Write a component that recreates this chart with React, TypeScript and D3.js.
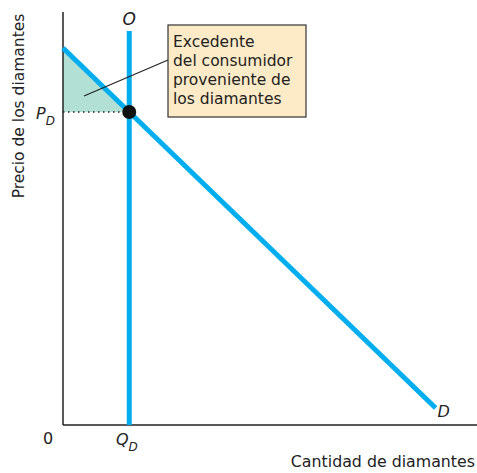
import React from "react";
import * as d3 from "d3";

const demandPoints = [
  { q: 0, p: 91.3 },
  { q: 90, p: 4.1 },
];
const supplyQ = 16;
const supplyTop = 95.4;
const boxLines = ["Excedente", "del consumidor", "proveniente de", "los diamantes"];
const xTitle = "Cantidad de diamantes";
const yTitle = "Precio de los diamantes";

const W = 477;
const H = 473;

export default function App() {
  const x = d3.scaleLinear().domain([0, 100]).range([63, 477]);
  const y = d3.scaleLinear().domain([0, 100]).range([425, 12]);
  const dq = d3.scaleLinear().domain([demandPoints[0].q, demandPoints[1].q]).range([demandPoints[0].p, demandPoints[1].p]);
  const PD = dq(supplyQ);
  const line = d3.line<{ q: number; p: number }>().x((d) => x(d.q)).y((d) => y(d.p));
  const tri = [
    { q: 0, p: demandPoints[0].p },
    { q: 0, p: PD },
    { q: supplyQ, p: PD },
  ];
  const blue = "#00aeef";
  const font = "'DejaVu Sans', sans-serif";
  return (
    <svg width={W} height={H} style={{ position: "absolute", left: 0, top: 0 }} fontFamily={font}>
      <rect width={W} height={H} fill="#fff" />
      <path d={line(tri) + "Z"} fill="#b3e0d4" />
      <line x1={x(0)} x2={x(supplyQ)} y1={y(PD)} y2={y(PD)} stroke="#222" strokeWidth={1.6} strokeDasharray="1.5 3.5" />
      <line x1={x(0)} x2={x(0)} y1={y(100)} y2={y(0)} stroke="#222" strokeWidth={1.5} />
      <line x1={x(0)} x2={x(100)} y1={y(0)} y2={y(0)} stroke="#222" strokeWidth={1.5} />
      <path d={line(demandPoints) ?? ""} stroke={blue} strokeWidth={5} fill="none" />
      <line x1={x(supplyQ)} x2={x(supplyQ)} y1={y(supplyTop)} y2={y(0)} stroke={blue} strokeWidth={5} />
      <circle cx={x(supplyQ)} cy={y(PD)} r={7} fill="#111" />
      <line x1={84} y1={96} x2={168} y2={60} stroke="#222" strokeWidth={1.2} />
      <rect x={168} y={25} width={138} height={92} fill="#fdebc8" stroke="#333" strokeWidth={1.2} />
      {boxLines.map((t, i) => (
        <text key={t} x={173} y={47 + i * 19} fontSize={15.5} fill="#222">{t}</text>
      ))}
      <text x={x(supplyQ)} y={25} fontSize={17} fontStyle="italic" textAnchor="middle" fill="#222">O</text>
      <text x={x(90) + 2} y={y(4.1) + 9} fontSize={16} fontStyle="italic" fill="#222">D</text>
      <text x={36} y={y(PD) + 7} fontSize={16} fontStyle="italic" fill="#222">P<tspan fontSize={12} dy={6}>D</tspan></text>
      <text x={116} y={445} fontSize={16} fontStyle="italic" fill="#222">Q<tspan fontSize={12} dy={6}>D</tspan></text>
      <text x={48} y={444} fontSize={16} textAnchor="middle" fill="#222">0</text>
      <text x={475} y={467} fontSize={15.8} textAnchor="end" fill="#222">{xTitle}</text>
      <text transform={`translate(24,${106}) rotate(-90)`} fontSize={15.5} textAnchor="middle" fill="#222">{yTitle}</text>
    </svg>
  );
}
